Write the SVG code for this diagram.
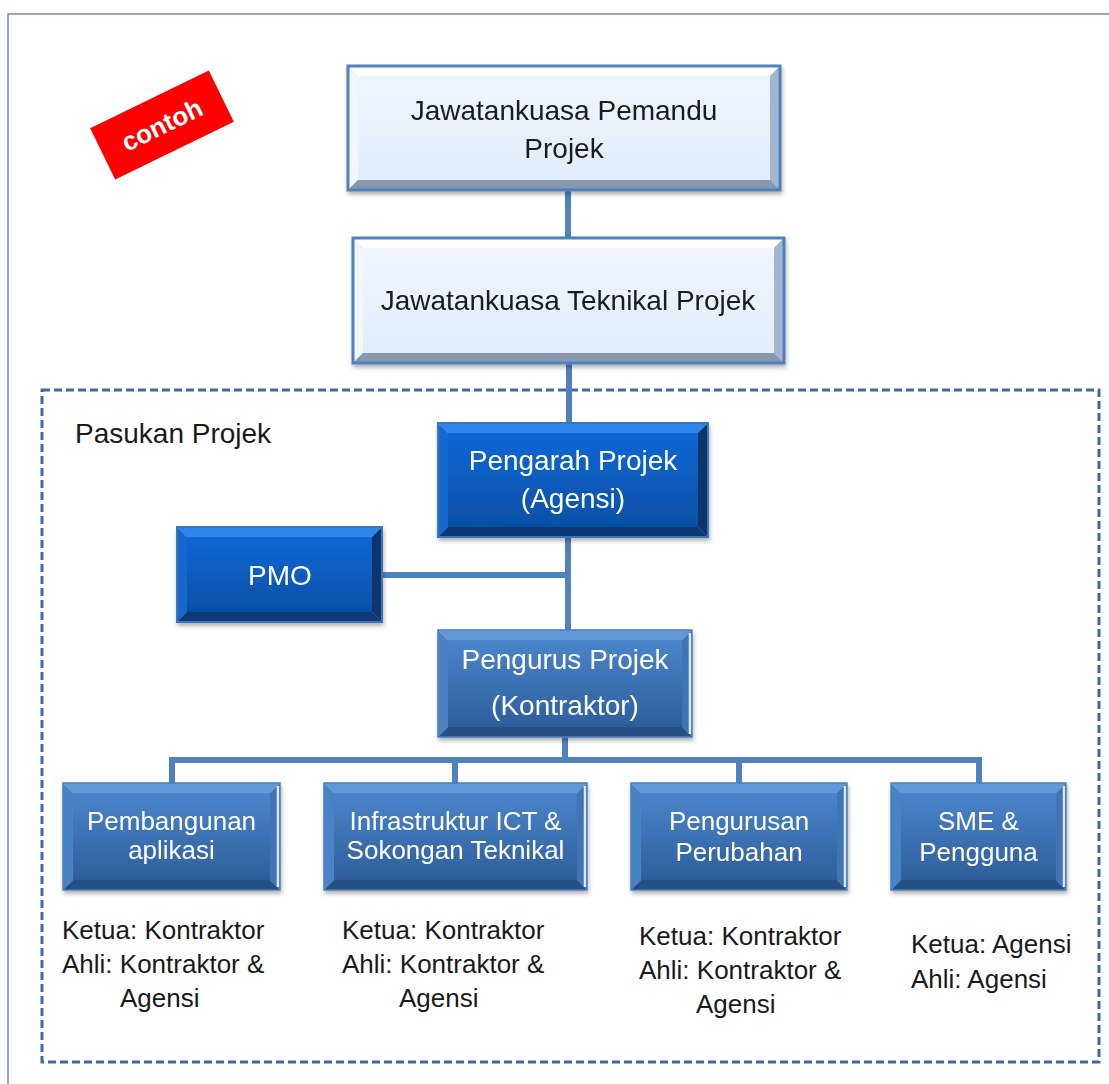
<svg xmlns="http://www.w3.org/2000/svg" width="1109" height="1084" viewBox="0 0 1109 1084">
<style>
  .t { font-family: "Liberation Sans", Arial, sans-serif; }
  .dk { fill: #1a1a1a; font-size: 28px; }
  .wt { fill: #ffffff; font-size: 28px; }
  .ws { fill: #ffffff; font-size: 26px; }
  .lb { fill: #1a1a1a; font-size: 26px; }
  .conn { fill: none; stroke: #4f81bd; stroke-width: 6; stroke-linejoin: miter; }
  .lt-top { fill: #ffffff; } .lt-left { fill: #f1f6fd; } .lt-right { fill: #a3b6cf; } .lt-bot { fill: #8798af; }
  .dk-top { fill: #2c86ea; } .dk-left { fill: #1468cf; } .dk-right { fill: #0a346c; } .dk-bot { fill: #073873; }
  .md-top { fill: #6199d8; } .md-left { fill: #4a83c6; } .md-right { fill: #3f74b5; } .md-bot { fill: #274f86; }
  .hl { stroke: #dbe8f7; stroke-width: 2.5; }
</style>
<defs>
  <linearGradient id="gLight" x1="0" y1="0" x2="0" y2="1"><stop offset="0" stop-color="#eef5fe"/><stop offset="1" stop-color="#e2edfa"/></linearGradient>
  <linearGradient id="gDark" x1="0" y1="0" x2="0" y2="1"><stop offset="0" stop-color="#0e68d4"/><stop offset="1" stop-color="#0650a6"/></linearGradient>
  <linearGradient id="gMid" x1="0" y1="0" x2="0" y2="1"><stop offset="0" stop-color="#4a85ca"/><stop offset="1" stop-color="#2e5e9c"/></linearGradient>
  <filter id="sh" x="-10%" y="-10%" width="120%" height="130%"><feDropShadow dx="1" dy="3" stdDeviation="2" flood-color="#000" flood-opacity="0.3"/></filter>
</defs>
<rect width="1109" height="1084" fill="#ffffff"/>
<rect x="8" y="14" width="1120" height="1100" fill="none" stroke="#6f8fb5" stroke-width="1.5"/>
<rect id="team-boundary" x="42" y="390" width="1057" height="672" fill="none" stroke="#3d6a9e" stroke-width="3" stroke-dasharray="8 4"/>
<text class="t dk" x="75" y="443">Pasukan Projek</text>

<g id="contoh" transform="translate(162,125) rotate(-26)">
  <rect x="-66" y="-28.5" width="132" height="57" fill="#ff0000"/>
  <text class="t" x="0" y="9" text-anchor="middle" font-size="26" font-weight="bold" fill="#ffffff">contoh</text>
</g>

<g id="connectors">
  <line class="conn" x1="568" y1="190" x2="568" y2="238"/>
  <line class="conn" x1="569" y1="363" x2="569" y2="423"/>
  <line class="conn" x1="568" y1="537" x2="568" y2="630"/>
  <line class="conn" x1="382" y1="575" x2="568" y2="575"/>
  <line class="conn" x1="565" y1="737" x2="565" y2="760"/>
  <polyline class="conn" points="172,783 172,760 979,760 979,783"/>
  <line class="conn" x1="455" y1="760" x2="455" y2="783"/>
  <line class="conn" x1="739" y1="760" x2="739" y2="783"/>
</g>

<g id="jawatankuasa-pemandu" filter="url(#sh)">
  <polygon class="lt-top" points="348,66 780,66 770,76 358,76"/>
  <polygon class="lt-left" points="348,66 358,76 358,180 348,190"/>
  <polygon class="lt-right" points="780,66 780,190 770,180 770,76"/>
  <polygon class="lt-bot" points="348,190 358,180 770,180 780,190"/>
  <rect x="358" y="76" width="412" height="104" fill="url(#gLight)"/>
  <rect x="348" y="66" width="432" height="124" fill="none" stroke="#4f81bd" stroke-width="3"/>
  <text class="t dk" x="564" y="120" text-anchor="middle">Jawatankuasa Pemandu</text>
  <text class="t dk" x="564" y="158" text-anchor="middle">Projek</text>
</g>

<g id="jawatankuasa-teknikal" filter="url(#sh)">
  <polygon class="lt-top" points="353,238 784,238 774,248 363,248"/>
  <polygon class="lt-left" points="353,238 363,248 363,353 353,363"/>
  <polygon class="lt-right" points="784,238 784,363 774,353 774,248"/>
  <polygon class="lt-bot" points="353,363 363,353 774,353 784,363"/>
  <rect x="363" y="248" width="411" height="105" fill="url(#gLight)"/>
  <rect x="353" y="238" width="431" height="125" fill="none" stroke="#4f81bd" stroke-width="3"/>
  <text class="t dk" x="568" y="310" text-anchor="middle">Jawatankuasa Teknikal Projek</text>
</g>

<g id="pengarah-projek" filter="url(#sh)">
  <polygon class="dk-top" points="438,423 708,423 698,433 448,433"/>
  <polygon class="dk-left" points="438,423 448,433 448,527 438,537"/>
  <polygon class="dk-right" points="708,423 708,537 698,527 698,433"/>
  <polygon class="dk-bot" points="438,537 448,527 698,527 708,537"/>
  <rect x="448" y="433" width="250" height="94" fill="url(#gDark)"/>
  <rect x="438" y="423" width="270" height="114" fill="none" stroke="#3a74be" stroke-width="2"/>
  <text class="t wt" x="573" y="470" text-anchor="middle">Pengarah Projek</text>
  <text class="t wt" x="573" y="508" text-anchor="middle">(Agensi)</text>
</g>

<g id="pmo" filter="url(#sh)">
  <polygon class="dk-top" points="177,527 382,527 372,537 187,537"/>
  <polygon class="dk-left" points="177,527 187,537 187,612 177,622"/>
  <polygon class="dk-right" points="382,527 382,622 372,612 372,537"/>
  <polygon class="dk-bot" points="177,622 187,612 372,612 382,622"/>
  <rect x="187" y="537" width="185" height="75" fill="url(#gDark)"/>
  <rect x="177" y="527" width="205" height="95" fill="none" stroke="#3a74be" stroke-width="2"/>
  <text class="t wt" x="280" y="585" text-anchor="middle">PMO</text>
</g>

<g id="pengurus-projek" filter="url(#sh)">
  <polygon class="md-top" points="438,630 692,630 682,640 448,640"/>
  <polygon class="md-left" points="438,630 448,640 448,727 438,737"/>
  <polygon class="md-right" points="692,630 692,737 682,727 682,640"/>
  <polygon class="md-bot" points="438,737 448,727 682,727 692,737"/>
  <rect x="448" y="640" width="234" height="87" fill="url(#gMid)"/>
  <line class="hl" x1="690" y1="633" x2="690" y2="734"/>
  <rect x="438" y="630" width="254" height="107" fill="none" stroke="#4a7fc0" stroke-width="1.5"/>
  <text class="t wt" x="565" y="669" text-anchor="middle">Pengurus Projek</text>
  <text class="t wt" x="565" y="715" text-anchor="middle">(Kontraktor)</text>
</g>

<g id="pembangunan-aplikasi" filter="url(#sh)">
  <polygon class="md-top" points="63,783 280,783 270,793 73,793"/>
  <polygon class="md-left" points="63,783 73,793 73,880 63,890"/>
  <polygon class="md-right" points="280,783 280,890 270,880 270,793"/>
  <polygon class="md-bot" points="63,890 73,880 270,880 280,890"/>
  <rect x="73" y="793" width="197" height="87" fill="url(#gMid)"/>
  <line class="hl" x1="278" y1="786" x2="278" y2="887"/>
  <rect x="63" y="783" width="217" height="107" fill="none" stroke="#4a7fc0" stroke-width="1.5"/>
  <text class="t ws" x="171.5" y="830" text-anchor="middle">Pembangunan</text>
  <text class="t ws" x="171.5" y="859" text-anchor="middle">aplikasi</text>
</g>

<g id="infrastruktur-ict" filter="url(#sh)">
  <polygon class="md-top" points="324,783 587,783 577,793 334,793"/>
  <polygon class="md-left" points="324,783 334,793 334,880 324,890"/>
  <polygon class="md-right" points="587,783 587,890 577,880 577,793"/>
  <polygon class="md-bot" points="324,890 334,880 577,880 587,890"/>
  <rect x="334" y="793" width="243" height="87" fill="url(#gMid)"/>
  <line class="hl" x1="585" y1="786" x2="585" y2="887"/>
  <rect x="324" y="783" width="263" height="107" fill="none" stroke="#4a7fc0" stroke-width="1.5"/>
  <text class="t ws" x="455.5" y="830" text-anchor="middle">Infrastruktur ICT &amp;</text>
  <text class="t ws" x="455.5" y="859" text-anchor="middle">Sokongan Teknikal</text>
</g>

<g id="pengurusan-perubahan" filter="url(#sh)">
  <polygon class="md-top" points="631,783 847,783 837,793 641,793"/>
  <polygon class="md-left" points="631,783 641,793 641,880 631,890"/>
  <polygon class="md-right" points="847,783 847,890 837,880 837,793"/>
  <polygon class="md-bot" points="631,890 641,880 837,880 847,890"/>
  <rect x="641" y="793" width="196" height="87" fill="url(#gMid)"/>
  <line class="hl" x1="845" y1="786" x2="845" y2="887"/>
  <rect x="631" y="783" width="216" height="107" fill="none" stroke="#4a7fc0" stroke-width="1.5"/>
  <text class="t ws" x="739" y="830" text-anchor="middle">Pengurusan</text>
  <text class="t ws" x="739" y="861" text-anchor="middle">Perubahan</text>
</g>

<g id="sme-pengguna" filter="url(#sh)">
  <polygon class="md-top" points="891,783 1066,783 1056,793 901,793"/>
  <polygon class="md-left" points="891,783 901,793 901,880 891,890"/>
  <polygon class="md-right" points="1066,783 1066,890 1056,880 1056,793"/>
  <polygon class="md-bot" points="891,890 901,880 1056,880 1066,890"/>
  <rect x="901" y="793" width="155" height="87" fill="url(#gMid)"/>
  <line class="hl" x1="1064" y1="786" x2="1064" y2="887"/>
  <rect x="891" y="783" width="175" height="107" fill="none" stroke="#4a7fc0" stroke-width="1.5"/>
  <text class="t ws" x="978.5" y="830" text-anchor="middle">SME &amp;</text>
  <text class="t ws" x="978.5" y="861" text-anchor="middle">Pengguna</text>
</g>

<g id="labels">
  <text class="t lb" x="62" y="939">Ketua: Kontraktor</text>
  <text class="t lb" x="62" y="973">Ahli: Kontraktor &amp;</text>
  <text class="t lb" x="120" y="1007">Agensi</text>
  <text class="t lb" x="342" y="939">Ketua: Kontraktor</text>
  <text class="t lb" x="342" y="973">Ahli: Kontraktor &amp;</text>
  <text class="t lb" x="399" y="1007">Agensi</text>
  <text class="t lb" x="639" y="945">Ketua: Kontraktor</text>
  <text class="t lb" x="639" y="979">Ahli: Kontraktor &amp;</text>
  <text class="t lb" x="696" y="1013">Agensi</text>
  <text class="t lb" x="911" y="953">Ketua: Agensi</text>
  <text class="t lb" x="911" y="988">Ahli: Agensi</text>
</g>
</svg>
